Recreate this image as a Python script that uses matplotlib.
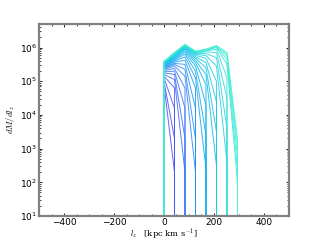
import numpy as np
import matplotlib
matplotlib.use("Agg")
import matplotlib.pyplot as plt
from matplotlib.ticker import MultipleLocator, LogLocator

plt.rcParams['mathtext.fontset'] = 'cm'

# l_z bin centres [kpc km/s]
lz_bins = [-42, 0, 42, 84, 126, 168, 210, 252, 294, 336]

# log10(dM/dl_z) for each snapshot, from the first bin (l_z = 0) upward;
# bins past the end of a list are empty
snap_logs = [
    [4.90, 2.3],
    [5.00, 3.3],
    [5.10, 4.2],
    [5.15, 4.8],
    [5.20, 5.05, 2.3],
    [5.25, 5.20, 3.3],
    [5.28, 5.30, 4.2],
    [5.32, 5.38, 4.8],
    [5.35, 5.45, 5.15, 2.3],
    [5.38, 5.50, 5.35, 3.3],
    [5.40, 5.53, 5.50, 4.2],
    [5.42, 5.57, 5.62, 4.8],
    [5.44, 5.60, 5.72, 5.10, 2.4],
    [5.46, 5.63, 5.80, 5.30, 3.4],
    [5.48, 5.66, 5.86, 5.45, 4.3],
    [5.50, 5.69, 5.91, 5.55, 4.9],
    [5.51, 5.71, 5.95, 5.62, 5.20, 2.5],
    [5.52, 5.74, 5.98, 5.68, 5.40, 3.5],
    [5.53, 5.76, 6.00, 5.73, 5.55, 4.4],
    [5.54, 5.78, 6.02, 5.77, 5.68, 5.0],
    [5.55, 5.80, 6.04, 5.80, 5.76, 5.45, 2.6],
    [5.56, 5.81, 6.05, 5.82, 5.82, 5.70, 3.6],
    [5.57, 5.82, 6.06, 5.84, 5.87, 5.85, 4.5],
    [5.57, 5.83, 6.07, 5.85, 5.90, 5.95, 5.1],
    [5.58, 5.84, 6.08, 5.87, 5.92, 6.00, 5.50, 2.0],
    [5.58, 5.84, 6.08, 5.88, 5.93, 6.02, 5.65, 2.4],
    [5.58, 5.85, 6.09, 5.88, 5.94, 6.04, 5.75, 2.8],
    [5.58, 5.85, 6.09, 5.89, 5.95, 6.05, 5.82, 3.1],
    [5.58, 5.85, 6.09, 5.89, 5.95, 6.06, 5.85, 3.3],
]

fig = plt.figure(figsize=(3.2, 2.4), dpi=100)
ax = fig.add_axes([0.122, 0.1, 0.781, 0.8])

colors = plt.cm.rainbow(np.linspace(0.08, 0.4, len(snap_logs)))
for logs, c in zip(snap_logs, colors):
    # empty bins are zero, they fall off the bottom of the log axis
    y = np.zeros(len(lz_bins))
    y[1:1 + len(logs)] = 10.0 ** np.array(logs)
    ax.plot(lz_bins, y, color=c, lw=0.7, alpha=0.85)

ax.set_yscale('log')
ax.set_xlim(-500, 500)
ax.set_ylim(10, 5e6)

ax.xaxis.set_major_locator(MultipleLocator(200))
ax.xaxis.set_minor_locator(MultipleLocator(50))
ax.yaxis.set_minor_locator(LogLocator(subs=np.arange(2, 10)))
ax.tick_params(which='both', direction='in', top=True, right=True,
               labelsize=6.5, pad=1.5)
ax.tick_params(which='major', length=2.5, width=0.6)
ax.tick_params(which='minor', length=1.2, width=0.5)
for s in ax.spines.values():
    s.set_color('#808080')
    s.set_linewidth(1.6)

ax.set_xlabel(r'$l_z$   [kpc km s$^{-1}$]', fontsize=6, family='serif')
ax.xaxis.set_label_coords(0.5, -0.05)
ax.set_ylabel(r'$dM/dl_z$', fontsize=6.2, labelpad=2)

fig.savefig('out.png', dpi=100)
